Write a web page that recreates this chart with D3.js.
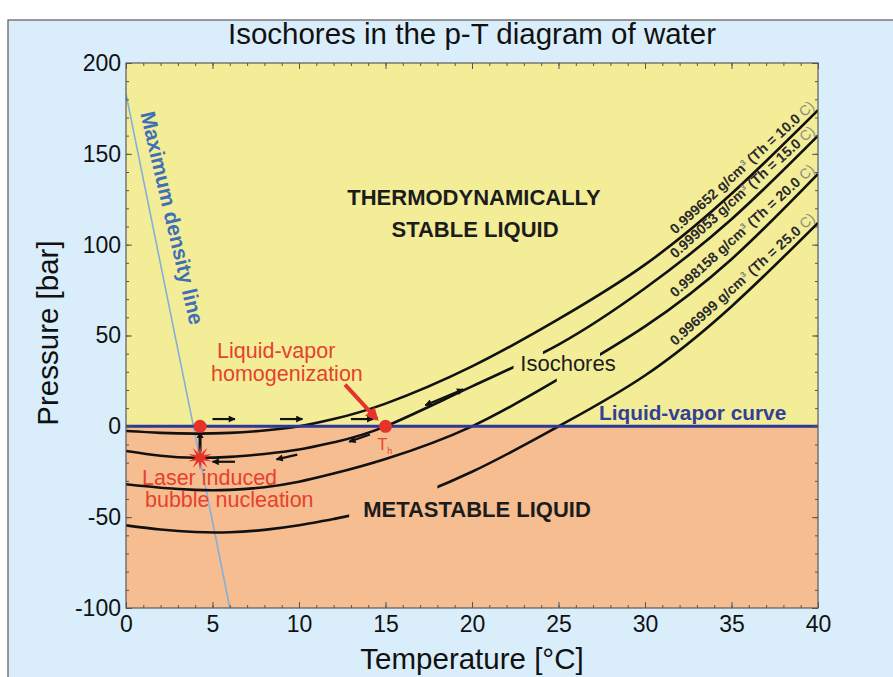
<!DOCTYPE html>
<html>
<head>
<meta charset="utf-8">
<script src="https://d3js.org/d3.v7.min.js"></script>
<style>
  body { margin: 0; background: #fff; }
  svg text { font-family: "Liberation Sans", Arial, sans-serif; }
</style>
</head>
<body>
<script>
// isochores, pressure [bar] at the temperature knots [°C]
var temps = [0, 2, 4, 6, 8, 10, 12, 15, 20, 25, 30, 35, 40];
var iso10 = [-2.6, -3.6, -4.0, -3.6, -2.3, 0, 4, 12.5, 33, 59, 89, 128, 174];
var iso15 = [-13.6, -16.2, -17.3, -16.8, -15.2, -12.8, -8.8, 0, 22, 45, 76, 114, 160];
var iso20 = [-31.9, -33.8, -35, -35, -33.5, -30.5, -26, -18, 0, 26, 55, 92, 139];
var iso25 = [-54.5, -56.8, -58.2, -58.3, -57, -54.5, -51, -44, -25, 0, 28, 66, 112];
var densities = ["0.999652", "0.999053", "0.998158", "0.996999"];
var thValues = ["10.0", "15.0", "20.0", "25.0"];
// parts of the isochores left out where a label sits [T from, T to]
var isoGaps = [null, [22.4, 24.1], [24.9, 27.4], [12.9, 18.0]];

// maximum density line
var densityT = [0, 3.9, 6.0];
var densityP = [183, 0, -100];

// annotations [T1, p1, T2, p2]
var flowArrows = [[5.0, 4, 6.3, 4], [8.9, 4, 10.2, 4], [13.0, 4, 14.3, 4],
                  [6.3, -19.5, 5.0, -19.5], [9.9, -15.6, 8.7, -18.2], [14.1, -4.5, 12.9, -8.5]];
var twoWayArrow = [17.3, 11.6, 19.5, 20.4];
var jumpArrow = [4.28, -14, 4.28, -3];
var homogArrow = [12.66, 23, 14.5, 4];
var nucleation = [4.28, -17.3];
var redDots = [[4.28, 0], [15, 0]];

var xTicks = [0, 5, 10, 15, 20, 25, 30, 35, 40];
var yTicks = [-100, -50, 0, 50, 100, 150, 200];

var W = 893, H = 677;
var svg = d3.select("body").append("svg").attr("width", W).attr("height", H);
var defs = svg.append("defs");

// outer panel
svg.append("rect").attr("x", 8).attr("y", 20).attr("width", 900).attr("height", 700)
  .attr("fill", "#d9eefa").attr("stroke", "#5a5a5a").attr("stroke-width", 1.2);

var x = d3.scaleLinear().domain([0, 40]).range([126, 818]);
var y = d3.scaleLinear().domain([-100, 200]).range([608, 63]);

defs.append("clipPath").attr("id", "plot-clip").append("rect")
  .attr("x", x(0)).attr("y", y(200)).attr("width", x(40) - x(0)).attr("height", y(-100) - y(200));

// regions
svg.append("rect").attr("x", x(0)).attr("y", y(200)).attr("width", x(40) - x(0))
  .attr("height", y(0) - y(200)).attr("fill", "#f3ed98");
svg.append("rect").attr("x", x(0)).attr("y", y(0)).attr("width", x(40) - x(0))
  .attr("height", y(-100) - y(0)).attr("fill", "#f6bd90");

var plot = svg.append("g").attr("clip-path", "url(#plot-clip)");

// maximum density line
var densityLine = d3.line().x(function(d, i) { return x(densityT[i]); }).y(function(d) { return y(d); });
plot.append("path").attr("d", densityLine(densityP)).attr("fill", "none")
  .attr("stroke", "#86afd8").attr("stroke-width", 1.6);

var x0 = x(densityT[0]), y0 = y(densityP[0]);
var x1 = x(densityT[2]), y1 = y(densityP[2]);
var dAng = Math.atan2(y1 - y0, x1 - x0) * 180 / Math.PI;
var tAt = function(p) { return densityT[0] + (densityT[2] - densityT[0]) * (densityP[0] - p) / (densityP[0] - densityP[2]); };
svg.append("text")
  .attr("transform", "translate(" + [x(tAt(171)), y(171)] + ") rotate(" + (dAng - 1.8) + ")")
  .attr("x", 0).attr("y", -10)
  .attr("font-size", 21).attr("font-weight", "bold").attr("fill", "#3f70b5")
  .text("Maximum density line");

// isochores
var isoSeries = [iso10, iso15, iso20, iso25];
var isoLine = d3.line().x(function(d, i) { return x(temps[i]); }).y(function(d) { return y(d); })
  .curve(d3.curveNatural);

isoSeries.forEach(function(vals, i) {
  var cp = defs.append("clipPath").attr("id", "iso-clip-" + i);
  var gap = isoGaps[i];
  if (gap) {
    cp.append("rect").attr("x", x(0)).attr("y", y(200)).attr("width", x(gap[0]) - x(0)).attr("height", y(-100) - y(200));
    cp.append("rect").attr("x", x(gap[1])).attr("y", y(200)).attr("width", x(40) - x(gap[1])).attr("height", y(-100) - y(200));
  } else {
    cp.append("rect").attr("x", x(0)).attr("y", y(200)).attr("width", x(40) - x(0)).attr("height", y(-100) - y(200));
  }
  plot.append("path").attr("d", isoLine(vals)).attr("fill", "none")
    .attr("stroke", "#111").attr("stroke-width", 2.6)
    .attr("clip-path", "url(#iso-clip-" + i + ")");

  // label along the upper end of the curve
  var interp = d3.scaleLinear().domain(temps).range(vals);
  var tA = 31.9, tB = 40;
  var ax = x(tA), ay = y(interp(tA)), bx = x(tB), by = y(interp(tB));
  var ang = Math.atan2(by - ay, bx - ax) * 180 / Math.PI;
  var lab = svg.append("text")
    .attr("transform", "translate(" + [ax, ay] + ") rotate(" + ang + ")")
    .attr("x", 0).attr("y", -4)
    .attr("font-size", 14.2).attr("font-weight", "bold").attr("fill", "#2a2a2a");
  lab.append("tspan").text(densities[i] + " g/cm");
  lab.append("tspan").attr("font-size", 8).attr("dy", -5).attr("fill", "#777").text("3");
  lab.append("tspan").attr("dy", 5).text(" (Th = " + thValues[i] + " ");
  lab.append("tspan").attr("fill", "#8c8c80").attr("font-weight", "normal").text("C)");
});

// liquid-vapor curve
svg.append("line").attr("x1", x(0)).attr("x2", x(40)).attr("y1", y(0)).attr("y2", y(0))
  .attr("stroke", "#2d3995").attr("stroke-width", 3);

// markers
defs.append("marker").attr("id", "head-k").attr("viewBox", "0 0 10 10")
  .attr("refX", 9).attr("refY", 5).attr("markerUnits", "userSpaceOnUse")
  .attr("markerWidth", 9).attr("markerHeight", 7).attr("orient", "auto-start-reverse")
  .append("path").attr("d", "M0,0L10,5L0,10z").attr("fill", "#111");
defs.append("marker").attr("id", "head-r").attr("viewBox", "0 0 10 10")
  .attr("refX", 8).attr("refY", 5).attr("markerUnits", "userSpaceOnUse")
  .attr("markerWidth", 14).attr("markerHeight", 13).attr("orient", "auto")
  .append("path").attr("d", "M0,0L10,5L0,10z").attr("fill", "#e5332a");

function arrow(a, stroke, width, marker, both) {
  var l = svg.append("line")
    .attr("x1", x(a[0])).attr("y1", y(a[1])).attr("x2", x(a[2])).attr("y2", y(a[3]))
    .attr("stroke", stroke).attr("stroke-width", width)
    .attr("marker-end", "url(#" + marker + ")");
  if (both) l.attr("marker-start", "url(#" + marker + ")");
}
flowArrows.forEach(function(a) { arrow(a, "#111", 2.2, "head-k", false); });
arrow(twoWayArrow, "#111", 2.2, "head-k", true);
arrow(jumpArrow, "#111", 3, "head-k", false);
arrow(homogArrow, "#e5332a", 4, "head-r", false);

// red points
svg.selectAll(".rdot").data(redDots).enter().append("circle")
  .attr("cx", function(d) { return x(d[0]); }).attr("cy", function(d) { return y(d[1]); })
  .attr("r", 6.5).attr("fill", "#e5332a");

var starPts = d3.range(20).map(function(k) { return [k * Math.PI / 10, k % 2 ? 4.5 : 12.5]; });
svg.append("path")
  .attr("transform", "translate(" + [x(nucleation[0]), y(nucleation[1])] + ")")
  .attr("d", d3.lineRadial().curve(d3.curveLinearClosed)(starPts))
  .attr("fill", "#e5332a");

// texts
function label(txt, tx, ty, opts) {
  var t = svg.append("text").attr("x", tx).attr("y", ty).text(txt);
  Object.keys(opts).forEach(function(k) { t.attr(k, opts[k]); });
  return t;
}
var bold = { "font-size": 22, "font-weight": "bold", "fill": "#1c1c1c", "text-anchor": "middle" };
label("THERMODYNAMICALLY", 474, 205, bold);
label("STABLE LIQUID", 475, 237, bold);
label("METASTABLE LIQUID", 477, 517, bold);
label("Isochores", 568, 371, { "font-size": 22, "fill": "#1c1c1c", "text-anchor": "middle" });
label("Liquid-vapor curve", 599, 420, { "font-size": 20.8, "font-weight": "bold", "fill": "#333f97" });

var red = { "font-size": 21.5, "fill": "#e5422d" };
label("Liquid-vapor", 217, 358, red);
label("homogenization", 211, 381, red);
label("Laser induced", 142, 485, red);
label("bubble nucleation", 145, 507, red);
var th = label("T", x(15) - 8, 450, { "font-size": 16, "fill": "#e5422d" });
th.append("tspan").attr("font-size", 9).attr("dy", 4).text("h");

// frame
svg.append("rect").attr("x", x(0)).attr("y", y(200)).attr("width", x(40) - x(0))
  .attr("height", y(-100) - y(200)).attr("fill", "none").attr("stroke", "#5a5a5a").attr("stroke-width", 1.2);

// axes
function styleAxis(g) {
  g.select(".domain").remove();
  g.selectAll(".tick line").attr("stroke", "#555");
  g.selectAll("text").attr("font-size", 23).attr("fill", "#111")
    .attr("font-family", "Liberation Sans, Arial, sans-serif");
}
var xMinor = d3.range(0, 41, 1), yMinor = d3.range(-100, 201, 10);
var plain = function(d) { return String(d); };

svg.append("g").attr("transform", "translate(0," + y(-100) + ")")
  .call(d3.axisBottom(x).tickValues(xMinor).tickSize(-3).tickFormat("")).call(styleAxis);
svg.append("g").attr("transform", "translate(0," + y(-100) + ")")
  .call(d3.axisBottom(x).tickValues(xTicks).tickSize(-6).tickPadding(8).tickFormat(plain)).call(styleAxis);
svg.append("g").attr("transform", "translate(0," + y(200) + ")")
  .call(d3.axisTop(x).tickValues(xMinor).tickSize(-3).tickFormat("")).call(styleAxis);
svg.append("g").attr("transform", "translate(0," + y(200) + ")")
  .call(d3.axisTop(x).tickValues(xTicks).tickSize(-6).tickFormat("")).call(styleAxis);

svg.append("g").attr("transform", "translate(" + x(0) + ",0)")
  .call(d3.axisLeft(y).tickValues(yMinor).tickSize(-3).tickFormat("")).call(styleAxis);
svg.append("g").attr("transform", "translate(" + x(0) + ",0)")
  .call(d3.axisLeft(y).tickValues(yTicks).tickSize(-6).tickPadding(5).tickFormat(plain)).call(styleAxis);
svg.append("g").attr("transform", "translate(" + x(40) + ",0)")
  .call(d3.axisRight(y).tickValues(yMinor).tickSize(-3).tickFormat("")).call(styleAxis);
svg.append("g").attr("transform", "translate(" + x(40) + ",0)")
  .call(d3.axisRight(y).tickValues(yTicks).tickSize(-6).tickFormat("")).call(styleAxis);

// titles
label("Isochores in the p-T diagram of water", 472, 44,
  { "font-size": 29.5, "fill": "#111", "text-anchor": "middle" });
label("Temperature [°C]", 472, 669, { "font-size": 29.5, "fill": "#111", "text-anchor": "middle" });
label("Pressure [bar]", 0, 0, { "font-size": 29.5, "fill": "#111", "text-anchor": "middle",
  "transform": "translate(58," + 333 + ") rotate(-90)" });
</script>
</body>
</html>
